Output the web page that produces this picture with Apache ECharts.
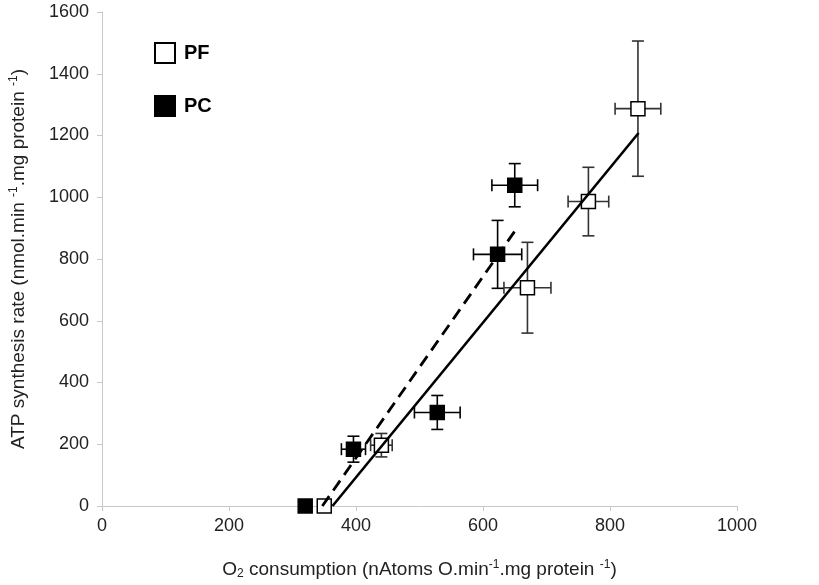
<!DOCTYPE html>
<html>
<head>
<meta charset="utf-8">
<script src="https://cdn.jsdelivr.net/npm/echarts@6/dist/echarts.min.js"></script>
<style>html,body{margin:0;padding:0;background:#fff}#c{width:819px;height:585px}</style>
</head>
<body>
<div id="c"></div>
<script>
// PF (open squares)
const pfX    = [350, 440, 670, 766, 844];
const pfY    = [0, 197, 707, 986, 1287];
const pfXErr = [0, 17, 37, 32, 36];
const pfYErr = [0, 38, 147, 111, 219];
// PC (filled squares)
const pcX    = [320, 396, 528, 623, 650];
const pcY    = [0, 184, 303, 815, 1039];
const pcXErr = [0, 19, 36, 38, 36];
const pcYErr = [0, 42, 55, 110, 70];
// fit lines
const pfFitX = [363, 845];
const pfFitY = [0, 1208];
const pcFitX = [347, 650];
const pcFitY = [0, 890];
// axes
const xTicks = [0, 200, 400, 600, 800, 1000];
const yTicks = [0, 200, 400, 600, 800, 1000, 1200, 1400, 1600];

const FONT = '"Liberation Sans", Arial, sans-serif';

function zip(a, b) { return a.map((v, i) => [v, b[i]]); }
function errData(x, y, xe, ye) { return x.map((v, i) => [v, y[i], xe[i], ye[i]]); }

function errRender(color) {
  return function (params, api) {
    const x = api.value(0), y = api.value(1), xe = api.value(2), ye = api.value(3);
    const children = [];
    const cap = 6;
    const st = { stroke: color, lineWidth: 1.6 };
    if (xe > 0) {
      const l = api.coord([x - xe, y]), r = api.coord([x + xe, y]);
      children.push({ type: 'line', shape: { x1: l[0], y1: l[1], x2: r[0], y2: r[1] }, style: st });
      children.push({ type: 'line', shape: { x1: l[0], y1: l[1] - cap, x2: l[0], y2: l[1] + cap }, style: st });
      children.push({ type: 'line', shape: { x1: r[0], y1: r[1] - cap, x2: r[0], y2: r[1] + cap }, style: st });
    }
    if (ye > 0) {
      const t = api.coord([x, y + ye]), b = api.coord([x, y - ye]);
      children.push({ type: 'line', shape: { x1: t[0], y1: t[1], x2: b[0], y2: b[1] }, style: st });
      children.push({ type: 'line', shape: { x1: t[0] - cap, y1: t[1], x2: t[0] + cap, y2: t[1] }, style: st });
      children.push({ type: 'line', shape: { x1: b[0] - cap, y1: b[1], x2: b[0] + cap, y2: b[1] }, style: st });
    }
    return { type: 'group', children: children };
  };
}

const chart = echarts.init(document.getElementById('c'), null, { renderer: 'canvas' });
const richName = {
  sup: { fontSize: 12, verticalAlign: 'top', color: '#222', fontFamily: FONT, padding: [0, 0, 9, 0] },
  sub: { fontSize: 12, verticalAlign: 'bottom', color: '#222', fontFamily: FONT, padding: [7, 0, 0, 0] }
};
chart.setOption({
  animation: false,
  backgroundColor: '#fff',
  textStyle: { fontFamily: FONT },
  grid: { left: 97, right: 82, top: 12, bottom: 68 },
  legend: {
    orient: 'vertical', left: 149, top: 37, itemGap: 31,
    itemWidth: 20, itemHeight: 20,
    textStyle: { fontSize: 20, fontWeight: 'bold', color: '#000', fontFamily: FONT, padding: [0, 0, 0, 4] },
    data: [{ name: 'PF', icon: 'rect' }, { name: 'PC', icon: 'rect' }]
  },
  xAxis: {
    type: 'value', min: 0, max: 1000, interval: 200,
    axisLine: { lineStyle: { color: '#c8c8c8', width: 1 } },
    axisTick: { show: true, length: 5, lineStyle: { color: '#c8c8c8' } },
    splitLine: { show: false },
    axisLabel: { fontSize: 18, color: '#222', margin: 11,
      formatter: v => xTicks.includes(v) ? String(v) : '' },
    name: 'O{sub|2} consumption (nAtoms O.min{sup|-1}.mg protein {sup|-1})',
    nameLocation: 'middle', nameGap: 53,
    nameTextStyle: { fontSize: 19, color: '#222', fontFamily: FONT, rich: richName }
  },
  yAxis: {
    type: 'value', min: 0, max: 1600, interval: 200,
    axisLine: { show: true, lineStyle: { color: '#c8c8c8', width: 1 } },
    axisTick: { show: true, length: 5, lineStyle: { color: '#c8c8c8' } },
    splitLine: { show: false },
    axisLabel: { fontSize: 18, color: '#222', margin: 13,
      formatter: v => yTicks.includes(v) ? String(v) : '' },
    name: 'ATP synthesis rate (nmol.min {sup|-1}.mg protein {sup|-1})',
    nameLocation: 'middle', nameGap: 73,
    nameTextStyle: { fontSize: 19, color: '#222', fontFamily: FONT, rich: richName }
  },
  series: [
    { type: 'custom', name: 'pfErr', renderItem: errRender('#333'), data: errData(pfX, pfY, pfXErr, pfYErr), z: 1, silent: true },
    { type: 'custom', name: 'pcErr', renderItem: errRender('#000'), data: errData(pcX, pcY, pcXErr, pcYErr), z: 1, silent: true },
    { type: 'scatter', name: 'PF', symbol: 'rect', symbolSize: 14, data: zip(pfX, pfY), z: 2,
      itemStyle: { color: '#fff', borderColor: '#000', borderWidth: 1.5, opacity: 1 } },
    { type: 'scatter', name: 'PC', symbol: 'rect', symbolSize: 14, data: zip(pcX, pcY), z: 2,
      itemStyle: { color: '#000', borderColor: '#000', borderWidth: 1.5, opacity: 1 } },
    { type: 'line', name: 'pfFit', data: zip(pfFitX, pfFitY), symbol: 'none', z: 3,
      lineStyle: { color: '#000', width: 2.6, type: 'solid' } },
    { type: 'line', name: 'pcFit', data: zip(pcFitX, pcFitY), symbol: 'none', z: 3,
      lineStyle: { color: '#000', width: 2.8, type: [12, 7] } }
  ]
});
</script>
</body>
</html>
